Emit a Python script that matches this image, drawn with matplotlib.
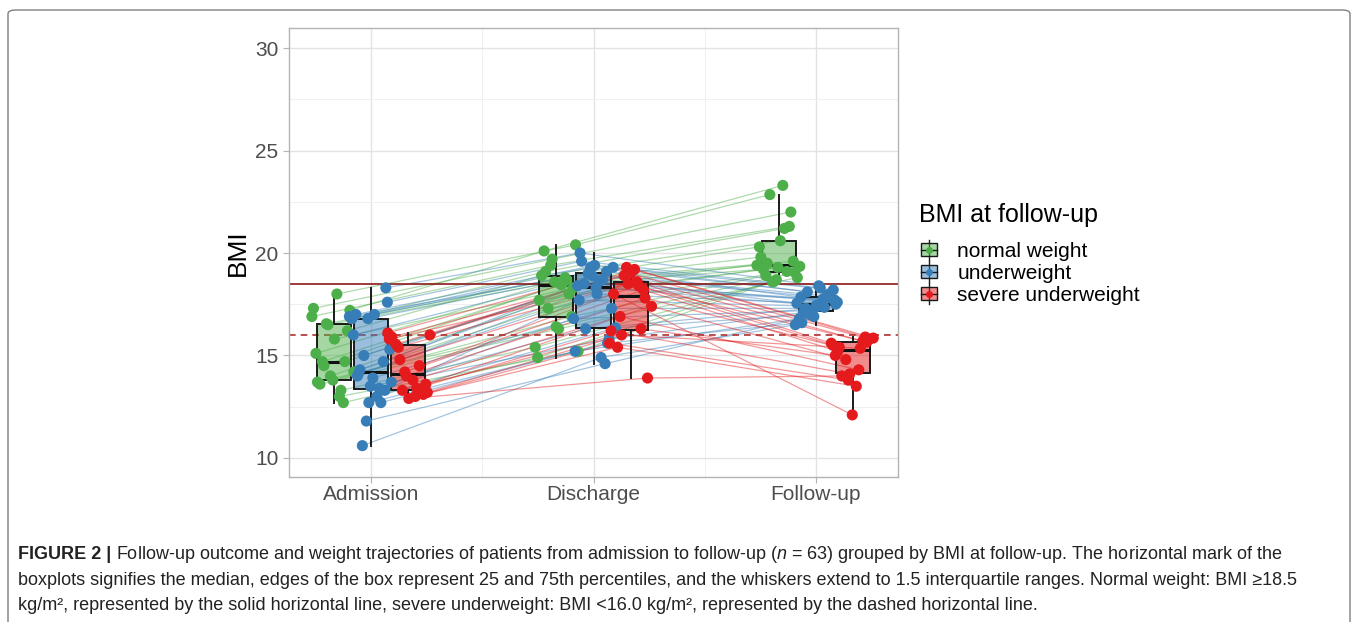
import matplotlib
matplotlib.use("Agg")
import matplotlib.pyplot as plt
import numpy as np
from matplotlib.patches import FancyBboxPatch, Rectangle
from matplotlib.lines import Line2D
from matplotlib.legend_handler import HandlerBase

plt.rcParams['font.family'] = ['Liberation Sans', 'DejaVu Sans']
plt.rcParams['mathtext.fontset'] = 'custom'
plt.rcParams['mathtext.it'] = 'Liberation Sans:italic'
plt.rcParams['mathtext.rm'] = 'Liberation Sans'

times = ["Admission", "Discharge", "Follow-up"]
groups = ["normal weight", "underweight", "severe underweight"]
colors = ["#4DAF4A", "#377EB8", "#E41A1C"]

# per-patient BMI values (admission, discharge, follow-up), grouped by BMI at follow-up
adm_normal = [16.9, 13.0, 14.7, 17.2, 13.8, 15.1, 12.7, 16.55, 14.2, 18.0, 13.6,
              16.2, 14.0, 17.3, 13.3, 14.5, 16.8, 15.8, 13.7, 14.7, 16.5]
dis_normal = [19.4, 15.2, 18.45, 20.1, 16.9, 18.6, 14.9, 18.8, 17.3, 20.4, 16.3,
              18.9, 18.0, 19.7, 15.4, 18.5, 19.1, 18.3, 16.4, 17.7, 18.7]
fu_normal = [21.3, 18.6, 19.35, 23.3, 18.9, 19.6, 18.7, 20.3, 19.1, 22.85, 18.8,
             20.6, 19.2, 22.0, 18.6, 19.4, 21.2, 19.5, 19.05, 19.3, 19.8]

adm_under = [14.1, 18.3, 12.7, 16.8, 13.4, 10.6, 15.3, 13.9, 17.0, 14.7, 11.8, 16.9,
             13.0, 14.3, 17.6, 13.5, 16.0, 12.7, 15.0, 13.7, 17.0, 14.0, 13.3, 16.8]
dis_under = [18.0, 20.0, 15.6, 19.3, 16.8, 14.9, 18.5, 17.3, 19.4, 18.4, 14.6, 19.0,
             16.35, 18.6, 19.6, 15.8, 18.9, 15.2, 18.7, 16.3, 19.3, 18.3, 17.7, 19.1]
fu_under = [17.5, 18.4, 16.6, 18.0, 17.2, 16.5, 17.75, 17.3, 18.2, 17.45, 16.8, 17.9,
            17.0, 17.6, 18.3, 17.1, 17.8, 16.9, 17.55, 17.35, 18.1, 17.7, 17.4, 17.85]

adm_severe = [14.2, 16.1, 13.0, 15.4, 13.6, 12.9, 15.9, 14.5, 13.3, 16.0, 13.8, 15.55,
              13.1, 14.0, 15.8, 13.4, 14.8, 13.2]
dis_severe = [18.2, 19.3, 15.6, 18.6, 16.9, 13.9, 19.0, 18.0, 16.3, 18.9, 17.4, 19.2,
              15.4, 17.8, 18.5, 16.2, 18.4, 16.0]
fu_severe = [15.2, 15.9, 13.8, 15.6, 14.3, 14.0, 15.8, 12.1, 15.0, 15.7, 14.8, 15.85,
             13.5, 15.4, 15.65, 14.1, 15.5, 15.35]

normal_cut = 18.5
severe_cut = 16.0

group_data = [
    [adm_normal, dis_normal, fu_normal],
    [adm_under, dis_under, fu_under],
    [adm_severe, dis_severe, fu_severe],
]

W, H = 1358, 622
fig = plt.figure(figsize=(W / 100, H / 100), dpi=100)

border = FancyBboxPatch((8 / W, -0.01), 1342 / W, 1 - 10 / H + 0.01,
                        boxstyle="round,pad=0,rounding_size=0.006",
                        transform=fig.transFigure, fill=False,
                        edgecolor="#7f7f7f", lw=1.0)
fig.patches.append(border)

ax = fig.add_axes([289 / W, 1 - 477 / H, (898 - 289) / W, (477 - 28) / H])
ax.set_xlim(0.63, 3.37)
ax.set_ylim(9.07, 30.98)

ax.set_yticks([10, 15, 20, 25, 30])
ax.set_yticks([12.5, 17.5, 22.5, 27.5], minor=True)
ax.set_xticks([1, 2, 3])
ax.set_xticklabels(times)
ax.set_xticks([1.5, 2.5], minor=True)
ax.grid(which="major", color="#E3E3E3", lw=1.0)
ax.grid(which="minor", color="#F0F0F0", lw=0.7)
ax.set_axisbelow(True)
for s in ax.spines.values():
    s.set_color("#B3B3B3")
    s.set_linewidth(1.0)
ax.tick_params(axis="both", which="major", color="#B3B3B3", length=4,
               labelsize=15, labelcolor="#4D4D4D", width=0.8)
ax.tick_params(axis="x", which="major", pad=2)
ax.tick_params(axis="both", which="minor", length=0)
ax.set_ylabel("BMI", fontsize=19, color="black", labelpad=4)

offsets = [-0.167, 0.0, 0.167]
box_w = 0.153
jit = 0.1

ax.axhline(normal_cut, color="#8B1A1A", lw=1.2, zorder=2.5)
ax.axhline(severe_cut, color="#B03030", lw=1.2, ls=(0, (4, 3)), zorder=2.5)

for g, (series, col) in enumerate(zip(group_data, colors)):
    n = len(series[0])
    xs_all = []
    for t in range(3):
        base = t + 1 + offsets[g]
        frac = np.array([((i * 0.618034 + t * 0.37 + g * 0.21) % 1.0) for i in range(n)])
        xs_all.append(base + (frac - 0.5) * 2 * jit)
    xs_all = np.array(xs_all)
    ys_all = np.array(series)
    for i in range(n):
        ax.plot(xs_all[:, i], ys_all[:, i], color=col, alpha=0.45, lw=0.9, zorder=2)
    for t in range(3):
        ax.boxplot(series[t], positions=[t + 1 + offsets[g]], widths=box_w,
                   patch_artist=True, showfliers=False, showcaps=False,
                   whis=1.5, manage_ticks=False, zorder=3,
                   boxprops=dict(facecolor=matplotlib.colors.to_rgba(col, 0.5),
                                 edgecolor="#1a1a1a", lw=1.4),
                   whiskerprops=dict(color="#1a1a1a", lw=1.4),
                   medianprops=dict(color="#111111", lw=2.2))
    for t in range(3):
        ax.scatter(xs_all[t], ys_all[t], s=64, color=col, edgecolors="none", zorder=4)


class BoxHandler(HandlerBase):
    def create_artists(self, legend, orig_handle, xdescent, ydescent, width, height,
                       fontsize, trans):
        col = orig_handle.get_color()
        cx = -xdescent + width / 2
        y0 = -ydescent
        arts = []
        arts.append(Line2D([cx, cx], [y0 - 0.2 * height, y0 + 1.2 * height],
                           color="#1a1a1a", lw=1.0, transform=trans))
        r = Rectangle((-xdescent, y0 + 0.05 * height), width, 0.9 * height,
                      facecolor=matplotlib.colors.to_rgba(col, 0.5), edgecolor="#1a1a1a",
                      lw=1.0, transform=trans)
        arts.append(r)
        arts.append(Line2D([-xdescent, -xdescent + width], [y0 + height / 2] * 2,
                           color="#1a1a1a", lw=1.0, transform=trans))
        arts.append(Line2D([cx], [y0 + height / 2], marker="o", ms=5, color=col,
                           mec="none", transform=trans))
        return arts


fig.text(919 / W, 1 - 215 / H, "BMI at follow-up", fontsize=18, color="black",
         va="center", ha="left")
handles = [Line2D([], [], color=c) for c in colors]
leg = fig.legend(handles, groups, handler_map={Line2D: BoxHandler()},
                 loc="upper left", bbox_to_anchor=(921 / W, 1 - 242 / H),
                 frameon=False, fontsize=15, handlelength=0.75, handleheight=0.7,
                 handletextpad=1.0, labelspacing=0.14, borderpad=0.0,
                 borderaxespad=0.0)

cap_size = 13.0
x0 = 18 / W
t1 = fig.text(x0, 1 - 559 / H, "FIGURE 2 |", fontsize=cap_size, fontweight="bold",
              color="#222222", va="baseline")
fig.canvas.draw()
rend = fig.canvas.get_renderer()
bb = t1.get_window_extent(rend)
x1 = (bb.x1 + 5) / W
fig.text(x1, 1 - 559 / H,
         r"Follow-up outcome and weight trajectories of patients from admission to follow-up ($\it{n}$ = 63) grouped by BMI at follow-up. The horizontal mark of the",
         fontsize=cap_size, color="#222222", va="baseline")
fig.text(x0, 1 - 585 / H,
         "boxplots signifies the median, edges of the box represent 25 and 75th percentiles, and the whiskers extend to 1.5 interquartile ranges. Normal weight: BMI \u226518.5",
         fontsize=cap_size, color="#222222", va="baseline")
fig.text(x0, 1 - 610 / H,
         "kg/m\u00b2, represented by the solid horizontal line, severe underweight: BMI <16.0 kg/m\u00b2, represented by the dashed horizontal line.",
         fontsize=cap_size, color="#222222", va="baseline")

fig.savefig("out.png", dpi=100)
